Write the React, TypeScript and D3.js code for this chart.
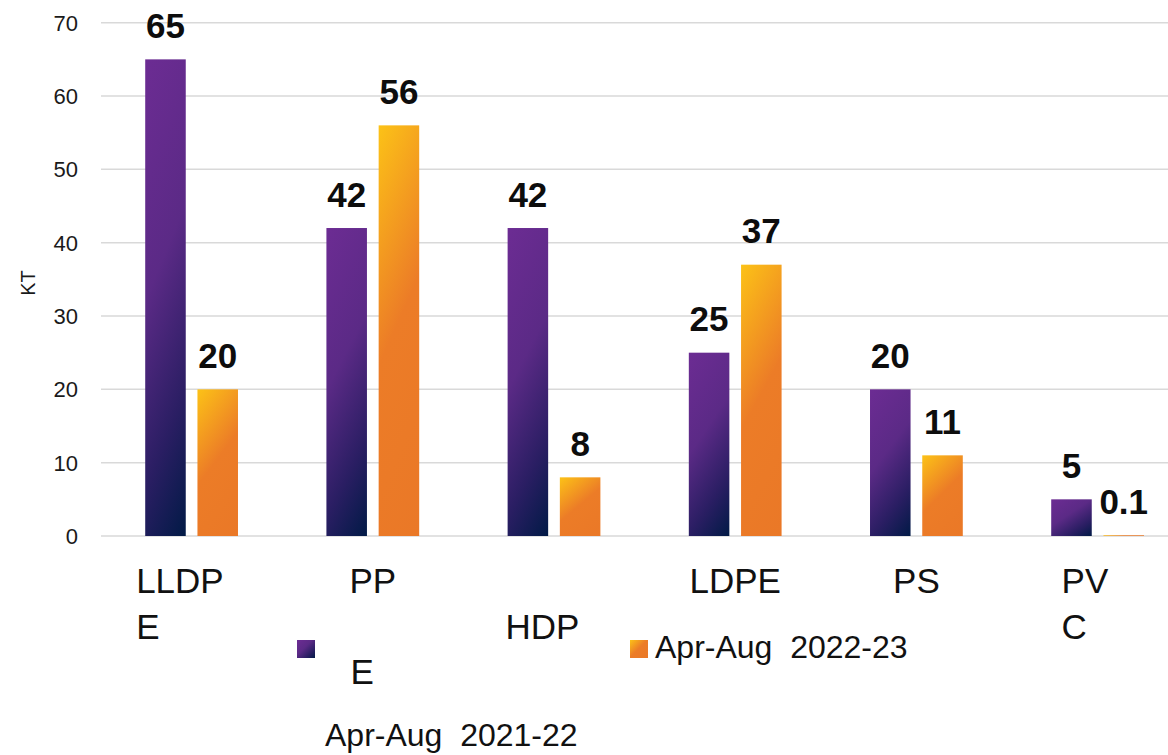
import React from "react";
import * as d3 from "d3";

const categories = ["LLDPE", "PP", "HDPE", "LDPE", "PS", "PVC"];
const categoryLines: string[][] = [["LLDP", "E"], ["PP"], ["", "HDP"], ["LDPE"], ["PS"], ["PV", "C"]];
const series2021 = [65, 42, 42, 25, 20, 5];
const series2022 = [20, 56, 8, 37, 11, 0.1];
const seriesNames = ["Apr-Aug  2021-22", "Apr-Aug  2022-23"];
const seriesLabels = ["65", "42", "42", "25", "20", "5"];
const seriesLabels2 = ["20", "56", "8", "37", "11", "0.1"];
const yTicks = [0, 10, 20, 30, 40, 50, 60, 70];
const yTitle = "KT";
const strayText = "E";

const W = 1168;
const H = 755;
const FONT = "'Liberation Sans', Arial, Helvetica, sans-serif";

const gradStops = [
  [
    { o: 0, c: "#6c2c93" },
    { o: 0.42, c: "#5b2a86" },
    { o: 0.75, c: "#2a1e63" },
    { o: 1, c: "#011a46" },
  ],
  [
    { o: 0, c: "#fcc217" },
    { o: 0.48, c: "#ec7c27" },
    { o: 1, c: "#ea7827" },
  ],
];

function measure(text: string, font: string): number {
  if (typeof document === "undefined") return text.length * 20;
  const c = document.createElement("canvas");
  const ctx = c.getContext("2d");
  if (!ctx) return text.length * 20;
  ctx.font = font;
  return ctx.measureText(text).width;
}

export default function App() {
  const x0 = d3
    .scaleBand<string>()
    .domain(categories)
    .range([101, 101 + 6 * 181.2])
    .paddingInner(0.488)
    .paddingOuter(0.244);
  const x1 = d3
    .scaleBand<number>()
    .domain([0, 1])
    .range([0, x0.bandwidth()])
    .paddingInner(0.224)
    .paddingOuter(0);
  const y = d3.scaleLinear().domain([0, 70]).range([536, 22.7]);

  const seriesData = [series2021, series2022];
  const seriesText = [seriesLabels, seriesLabels2];

  type Bar = { id: string; s: number; x: number; y: number; w: number; h: number; label: string };
  const bars: Bar[] = [];
  categories.forEach((cat, i) => {
    seriesData.forEach((arr, s) => {
      const bx = (x0(cat) ?? 0) + (x1(s) ?? 0);
      const by = y(arr[i]);
      bars.push({
        id: `g-${i}-${s}`,
        s,
        x: bx,
        y: by,
        w: x1.bandwidth(),
        h: y(0) - by,
        label: seriesText[s][i],
      });
    });
  });

  const catFont = `35px ${FONT}`;

  return (
    <svg
      width={W}
      height={H}
      style={{ position: "absolute", left: 0, top: 0, background: "#fff" }}
      fontFamily={FONT}
    >
      <defs>
        {bars.map((b) => {
          const k = 0.7 * Math.sqrt(Math.max(b.h, 1) / b.w);
          const L = (k * b.w + b.h) / (k * k + 1);
          return (
            <linearGradient
              key={b.id}
              id={b.id}
              gradientUnits="userSpaceOnUse"
              x1={b.x}
              y1={b.y}
              x2={b.x + k * L}
              y2={b.y + L}
            >
              {gradStops[b.s].map((st, j) => (
                <stop key={j} offset={st.o} stopColor={st.c} />
              ))}
            </linearGradient>
          );
        })}
        {[0, 1].map((s) => (
          <linearGradient key={s} id={`leg-${s}`} x1="0" y1="0" x2="1" y2="1">
            {gradStops[s].map((st, j) => (
              <stop key={j} offset={st.o} stopColor={st.c} />
            ))}
          </linearGradient>
        ))}
      </defs>

      {/* gridlines */}
      {yTicks.map((t) => (
        <line key={t} x1={101} x2={W} y1={y(t)} y2={y(t)} stroke="#d9d9d9" strokeWidth={1.5} />
      ))}
      {/* tick labels */}
      {yTicks.map((t) => (
        <text key={t} x={78} y={y(t)} dy="0.36em" textAnchor="end" fontSize={22} fill="#1a1a1a">
          {t}
        </text>
      ))}
      <text
        transform={`translate(${28},${283}) rotate(-90)`}
        textAnchor="middle"
        dy="0.36em"
        fontSize={20}
        fill="#1a1a1a"
      >
        {yTitle}
      </text>

      {/* bars */}
      {bars.map((b) => (
        <rect key={b.id} x={b.x} y={b.y} width={b.w} height={Math.max(b.h, 0.7)} fill={`url(#${b.id})`} />
      ))}
      {/* data labels */}
      {bars.map((b) => (
        <text
          key={b.id + "l"}
          x={b.x + b.w / 2}
          y={b.y - 21.5}
          textAnchor="middle"
          fontSize={35}
          fontWeight="bold"
          fill="#0d0d0d"
        >
          {b.label}
        </text>
      ))}

      {/* category labels */}
      {categories.map((cat, i) => {
        const cx = (x0(cat) ?? 0) + x0.bandwidth() / 2;
        const full = measure(cat, catFont);
        const sx = cx - full / 2;
        return (
          <text key={cat} fontSize={35} fill="#111">
            {categoryLines[i].map((ln, j) =>
              ln ? (
                <tspan key={j} x={sx} y={593 + j * 46}>
                  {ln}
                </tspan>
              ) : null
            )}
          </text>
        );
      })}

      {/* legend */}
      <rect x={297} y={640} width={18} height={18} fill="url(#leg-0)" />
      <text x={350.5} y={684} fontSize={35} fill="#111">
        {strayText}
      </text>
      <text x={325} y={746} fontSize={32} fill="#111" style={{ whiteSpace: "pre" }}>
        {seriesNames[0]}
      </text>
      <rect x={630} y={640} width={18} height={18} fill="url(#leg-1)" />
      <text x={655} y={658} fontSize={32} fill="#111" style={{ whiteSpace: "pre" }}>
        {seriesNames[1]}
      </text>
    </svg>
  );
}
